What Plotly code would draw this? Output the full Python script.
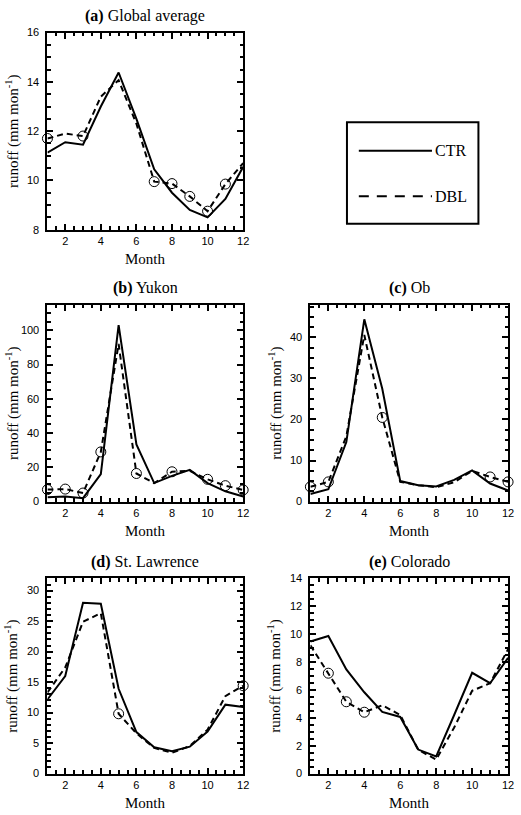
import plotly.graph_objects as go

months = list(range(1, 13))

# (a) Global average
a_ctr = [11.13, 11.55, 11.45, 13.0, 14.38, 12.5, 10.45, 9.5, 8.8, 8.5, 9.25, 10.55]
a_dbl = [11.7, 11.9, 11.8, 13.4, 14.07, 12.3, 9.95, 9.87, 9.35, 8.75, 9.85, 10.7]
a_mark = [1, 3, 7, 8, 9, 10, 11]

# (b) Yukon
b_ctr = [2.5, 3.0, 2.0, 16.0, 103.0, 33.4, 10.8, 15.0, 18.5, 10.8, 6.0, 3.0]
b_dbl = [7.0, 7.3, 5.0, 29.0, 92.0, 16.4, 10.8, 17.4, 18.0, 13.0, 9.3, 6.8]
b_mark = [1, 2, 3, 4, 6, 8, 10, 11, 12]

# (c) Ob
c_ctr = [1.85, 3.0, 14.5, 44.4, 27.5, 5.0, 4.0, 3.7, 5.3, 7.6, 4.4, 2.7]
c_dbl = [3.6, 4.8, 15.9, 40.6, 20.5, 4.8, 4.0, 3.5, 4.7, 7.5, 6.0, 4.8]
c_mark = [1, 2, 5, 11, 12]

# (d) St. Lawrence
d_ctr = [12.15, 16.0, 28.0, 27.85, 13.9, 6.8, 4.3, 3.65, 4.4, 6.9, 11.3, 10.9]
d_dbl = [13.3, 17.4, 24.9, 26.3, 9.8, 6.6, 4.2, 3.4, 4.5, 7.2, 12.7, 14.4]
d_mark = [5, 12]

# (e) Colorado
e_ctr = [9.47, 9.87, 7.47, 5.83, 4.42, 4.06, 1.72, 1.23, 4.2, 7.23, 6.48, 8.3]
e_dbl = [9.2, 7.2, 5.15, 4.4, 4.9, 4.2, 1.7, 1.0, 3.3, 5.94, 6.48, 8.93]
e_mark = [2, 3, 4]

titles = ["<b>(a)</b> Global average", "<b>(b)</b> Yukon", "<b>(c)</b> Ob",
          "<b>(d)</b> St. Lawrence", "<b>(e)</b> Colorado"]
y_ranges = [[8, 16], [0, 115], [0, 48], [0, 32], [0, 14]]
y_dticks = [2, 20, 10, 5, 2]
y_minor = [0.5, 5, 2.5, 1, 0.5]
legend_names = ["CTR", "DBL"]

W, H = 521, 815
# pixel boxes: (left, right, top, bottom)
boxes = [(48, 246, 27, 227), (48, 246, 303, 503), (314, 514, 303, 503),
         (48, 246, 581, 779), (314, 514, 581, 779)]

panels = [(a_ctr, a_dbl, a_mark), (b_ctr, b_dbl, b_mark), (c_ctr, c_dbl, c_mark),
          (d_ctr, d_dbl, d_mark), (e_ctr, e_dbl, e_mark)]

fig = go.Figure()
serif = "Liberation Serif"
sans = "Liberation Sans"

annotations = []
for i, ((ctr, dbl, mark), box) in enumerate(zip(panels, boxes)):
    n = "" if i == 0 else str(i + 1)
    xa, ya = "x" + n, "y" + n
    fig.add_trace(go.Scatter(x=months, y=ctr, mode="lines", xaxis=xa, yaxis=ya,
                             line=dict(color="black", width=2), showlegend=False))
    fig.add_trace(go.Scatter(x=months, y=dbl, mode="lines", xaxis=xa, yaxis=ya,
                             line=dict(color="black", width=2, dash="6px,4px"),
                             showlegend=False))
    fig.add_trace(go.Scatter(x=mark, y=[dbl[m - 1] for m in mark], mode="markers",
                             xaxis=xa, yaxis=ya,
                             marker=dict(symbol="circle-open", size=10, color="black",
                                         line=dict(width=1)),
                             showlegend=False, cliponaxis=False))
    l, r, t, b = box
    common = dict(showline=True, linecolor="black", linewidth=2, mirror="allticks",
                  ticks="inside", ticklen=6, tickwidth=2, tickcolor="black",
                  showgrid=False, zeroline=False,
                  tickfont=dict(family=sans, size=11, color="black"))
    xd = dict(domain=[l / W, r / W], range=[1, 12], tick0=2, dtick=2, anchor=ya,
              minor=dict(ticks="inside", dtick=0.5, ticklen=3.5, tickcolor="black",
                         tickwidth=1.5),
              **common)
    yd = dict(domain=[1 - b / H, 1 - t / H], range=y_ranges[i], dtick=y_dticks[i],
              anchor=xa, ticklabelstandoff=4,
              minor=dict(ticks="inside", dtick=y_minor[i], ticklen=3.5,
                         tickcolor="black", tickwidth=1.5),
              **common)
    fig.update_layout(**{("xaxis" + n): xd, ("yaxis" + n): yd})
    cx = (l + r) / 2
    annotations.append(dict(text=titles[i], x=cx / W, y=1 - (t - 17) / H, xref="paper",
                            yref="paper", showarrow=False, xanchor="center",
                            yanchor="middle", font=dict(family=serif, size=16,
                                                        color="black")))
    annotations.append(dict(text="Month", x=cx / W, y=1 - (b + 30) / H, xref="paper",
                            yref="paper", showarrow=False, xanchor="center",
                            yanchor="middle", font=dict(family=serif, size=15,
                                                        color="black")))
    annotations.append(dict(text="runoff (mm mon<sup>-1</sup>)", x=(l - 36) / W,
                            y=1 - (t + b) / 2 / H, xref="paper", yref="paper",
                            showarrow=False, textangle=-90, xanchor="center",
                            yanchor="middle",
                            font=dict(family=serif, size=15, color="black")))

# legend box
shapes = [dict(type="rect", xref="paper", yref="paper", x0=351 / W, x1=484 / W,
               y0=1 - 221 / H, y1=1 - 118 / H, line=dict(color="black", width=2)),
          dict(type="line", xref="paper", yref="paper", x0=363 / W, x1=437 / W,
               y0=1 - 147 / H, y1=1 - 147 / H, line=dict(color="black", width=2)),
          dict(type="line", xref="paper", yref="paper", x0=363 / W, x1=437 / W,
               y0=1 - 193 / H, y1=1 - 193 / H,
               line=dict(color="black", width=2, dash="10px,8px"))]
for name, yy in zip(legend_names, [147, 193]):
    annotations.append(dict(text=name, x=438 / W, y=1 - yy / H, xref="paper",
                            yref="paper", showarrow=False, xanchor="left",
                            yanchor="middle",
                            font=dict(family=serif, size=16, color="black")))

fig.update_layout(width=W, height=H, margin=dict(l=0, r=0, t=0, b=0),
                  paper_bgcolor="white", plot_bgcolor="white",
                  annotations=annotations, shapes=shapes, showlegend=False)

fig.write_html("out.html", config={"displayModeBar": False},
               post_script="document.body.style.margin='0';")
